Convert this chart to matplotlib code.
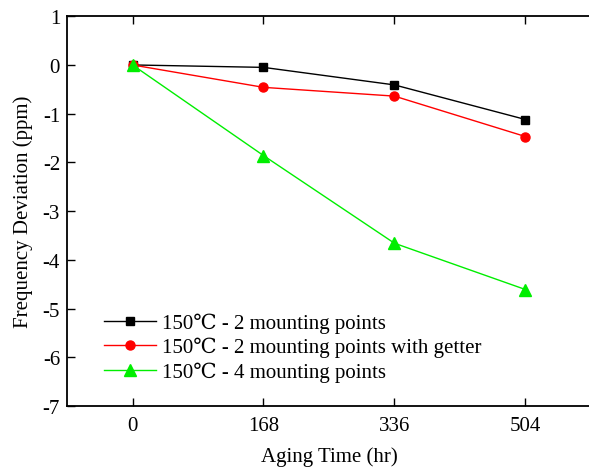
import matplotlib
matplotlib.use("Agg")
import matplotlib.pyplot as plt

plt.rcParams['font.family'] = ['Liberation Serif', 'DejaVu Serif']
plt.rcParams['mathtext.fontset'] = 'stix'

hours = [0, 168, 336, 504]
two_mount = [0, -0.05, -0.41, -1.12]
two_mount_getter = [0, -0.46, -0.64, -1.47]
four_mount = [0, -1.86, -3.66, -4.61]
labels = ["150\u2103 - 2 mounting points",
          "150\u2103 - 2 mounting points with getter",
          "150\u2103 - 4 mounting points"]
y_ticks = [1, 0, -1, -2, -3, -4, -5, -6, -7]

fig = plt.figure(figsize=(5.89, 4.77), dpi=100)
ax = fig.add_axes([0.1138, 0.1468, 0.8895, 0.8171])

ax.plot(hours, two_mount, color='black', lw=1, marker='s', ms=6, label=labels[0])
ax.plot(hours, two_mount_getter, color='red', lw=1, marker='o', ms=6.5, label=labels[1])
ax.plot(hours, four_mount, color='#00ee00', lw=1, marker='^', ms=8, label=labels[2])

ax.set_xlim(-84, 588)
ax.set_ylim(-7, 1)
ax.set_xticks(hours)
ax.set_yticks(y_ticks)
ax.set_yticklabels([str(v) for v in y_ticks])
ax.tick_params(direction='in', top=True, right=False, labelsize=15, length=6, width=1)
ax.tick_params(axis='x', which='major', pad=7)
ax.tick_params(axis='y', which='major', pad=5)
for s in ax.spines.values():
    s.set_linewidth(1.3)

ax.set_xlabel("Aging Time (hr)", fontsize=15, labelpad=8)
ax.set_ylabel("Frequency Deviation (ppm)", fontsize=15, labelpad=7)

ax.legend(loc='upper left', bbox_to_anchor=(0.07, 0.24), frameon=False, fontsize=15,
          handlelength=2.5, handletextpad=0.3, labelspacing=0.2, borderaxespad=0,
          borderpad=0)

fig.savefig("out.png", dpi=100)
